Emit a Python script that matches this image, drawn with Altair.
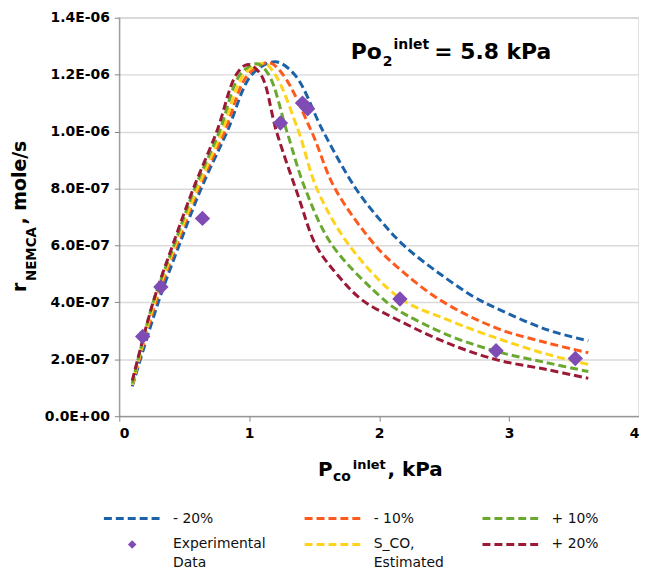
import altair as alt
import pandas as pd

FONT = "DejaVu Sans"

# ---------------- data (y in units of 1e-6 mole/s) ----------------
# legend order (filled column by column): col1, col2, col3
series_names = ["- 20%", "Experimental Data", "- 10%", "S_CO, Estimated", "+ 10%", "+ 20%"]
series_colors = ["#1B62A8", "#7E4CB4", "#FF5A1E", "#FFD31C", "#6AA830", "#9B1935"]

m20_x = [0.10, 0.30, 0.46, 0.63, 0.83, 1.02, 1.20, 1.35, 1.57, 1.82, 2.01, 2.19, 2.45, 2.73, 2.90, 3.29, 3.61]
m20_y = [0.105, 0.40, 0.60, 0.80, 1.00, 1.20, 1.245, 1.20, 1.00, 0.80, 0.688, 0.60, 0.506, 0.419, 0.38, 0.304, 0.265]

m10_x = [0.10, 0.28, 0.44, 0.61, 0.81, 0.99, 1.15, 1.26, 1.48, 1.66, 1.97, 2.14, 2.47, 2.90, 3.29, 3.61]
m10_y = [0.11, 0.40, 0.60, 0.80, 1.00, 1.20, 1.242, 1.20, 1.00, 0.80, 0.60, 0.524, 0.408, 0.31, 0.258, 0.223]

sco_x = [0.10, 0.27, 0.43, 0.60, 0.79, 0.96, 1.11, 1.20, 1.38, 1.52, 1.77, 2.16, 2.52, 2.90, 3.29, 3.61]
sco_y = [0.11, 0.40, 0.60, 0.80, 1.00, 1.20, 1.24, 1.20, 1.00, 0.80, 0.60, 0.415, 0.34, 0.275, 0.218, 0.182]

p10_x = [0.10, 0.26, 0.42, 0.58, 0.77, 0.93, 1.06, 1.15, 1.29, 1.43, 1.64, 2.04, 2.14, 2.52, 2.90, 3.29, 3.61]
p10_y = [0.115, 0.40, 0.60, 0.80, 1.00, 1.20, 1.238, 1.20, 1.00, 0.80, 0.60, 0.408, 0.374, 0.287, 0.228, 0.188, 0.157]

p20_x = [0.10, 0.26, 0.41, 0.57, 0.75, 0.90, 0.99, 1.09, 1.21, 1.376, 1.514, 1.68, 1.87, 2.14, 2.52, 2.90, 3.29, 3.61]
p20_y = [0.125, 0.40, 0.60, 0.80, 1.00, 1.20, 1.236, 1.20, 1.00, 0.775, 0.60, 0.496, 0.408, 0.339, 0.258, 0.199, 0.164, 0.133]

exp_x = [0.18, 0.32, 0.64, 1.24, 1.41, 1.45, 2.16, 2.90, 3.51]
exp_y = [0.28, 0.454, 0.695, 1.03, 1.10, 1.08, 0.412, 0.23, 0.203]

x_ticks = [0, 1, 2, 3, 4]
y_ticks = [0.0, 0.2e-6, 0.4e-6, 0.6e-6, 0.8e-6, 1.0e-6, 1.2e-6, 1.4e-6]

# ---------------- tables ----------------
rows = []
for name, xs, ys in [("- 20%", m20_x, m20_y), ("- 10%", m10_x, m10_y),
                     ("S_CO, Estimated", sco_x, sco_y), ("+ 10%", p10_x, p10_y),
                     ("+ 20%", p20_x, p20_y)]:
    for xv, yv in zip(xs, ys):
        rows.append({"series": name, "x": xv, "y": yv * 1e-6})
line_df = pd.DataFrame(rows)
exp_df = pd.DataFrame({"x": exp_x, "y": [v * 1e-6 for v in exp_y]})

x_enc = alt.X("x:Q", scale=alt.Scale(domain=[0, 4], nice=False),
              axis=alt.Axis(values=x_ticks, title=None, grid=False, format="d"))
y_enc = alt.Y("y:Q", scale=alt.Scale(domain=[0, 1.4e-6], nice=False),
              axis=alt.Axis(values=y_ticks, title=None, grid=True,
                            labelExpr="replace(replace(format(datum.value, '.1e'), 'e-', 'E-0'), 'e+', 'E+0')"))

is_exp = "datum.value === 'Experimental Data'"
small_diamond = "M0,-0.15L0.15,0L0,0.15L-0.15,0Z"
legend = alt.Legend(
    title=None, orient="none", legendX=-15, legendY=497, columns=3,
    columnPadding=32, rowPadding=12,
    symbolType=alt.ExprRef(expr=is_exp + " ? '" + small_diamond + "' : 'stroke'"),
    symbolSize=3249, symbolOffset=21,
    symbolFillColor=alt.ExprRef(expr=is_exp + " ? '#7E4CB4' : 'transparent'"),
    symbolStrokeWidth=alt.ExprRef(expr=is_exp + " ? 0 : 3"),
    symbolDash=[8, 4],
    labelFont=FONT, labelFontSize=14, labelColor="#111111", labelOffset=34,
    labelExpr="datum.label === 'Experimental Data' ? ['Experimental', 'Data'] : "
              "datum.label === 'S_CO, Estimated' ? ['S_CO,', 'Estimated'] : datum.label",
)

lines = alt.Chart(line_df).mark_line(strokeWidth=3, strokeDash=[8, 4], interpolate="catmull-rom").encode(
    x=x_enc, y=y_enc,
    color=alt.Color("series:N", scale=alt.Scale(domain=series_names, range=series_colors), legend=legend),
    detail="series:N",
)

points = alt.Chart(exp_df).mark_point(shape="diamond", filled=True, size=240, color="#7E4CB4", opacity=1).encode(
    x=alt.X("x:Q"), y=alt.Y("y:Q"))

one = pd.DataFrame({"a": [0]})


def txt(text, x, y, size, angle=0, weight="bold"):
    return alt.Chart(one).mark_text(text=text, align="left", baseline="alphabetic", fontSize=size,
                                    fontWeight=weight, font=FONT, angle=angle, color="#000000").encode(
        x=alt.value(x), y=alt.value(y))


texts = [
    # Po2^inlet = 5.8 kPa
    txt("Po", 233, 42, 22), txt("2", 265, 49, 14), txt("inlet", 276, 31, 14), txt("= 5.8 kPa", 317, 42, 22),
    # x title
    txt("P", 200, 461, 20), txt("co", 215, 466, 14), txt("inlet", 235, 454, 13), txt(", kPa", 270, 461, 20),
    # y title (rotated)
    txt("r", -94, 276, 19, angle=270), txt("NEMCA", -84, 265, 13.5, angle=270),
    txt(", mole/s", -94, 208, 19, angle=270),
]

chart = alt.layer(lines, points, *texts).properties(
    width=523, height=401,
    autosize=alt.AutoSizeParams(type="none"),
    padding={"left": 112, "top": 8, "right": 0, "bottom": 158},
).configure(
    style={"guide-label": {"lineHeight": 19}}
).configure_view(stroke="#D9D9D9", strokeWidth=1.5).configure_axis(
    labelFont=FONT, labelFontSize=14, labelFontWeight="bold", labelColor="#000000",
    domainColor="#868686", tickColor="#868686", tickSize=5, labelPadding=5,
    gridColor="#D9D9D9", gridWidth=1.5,
)

chart.save("out.html", embed_options={"renderer": "svg", "actions": False})
